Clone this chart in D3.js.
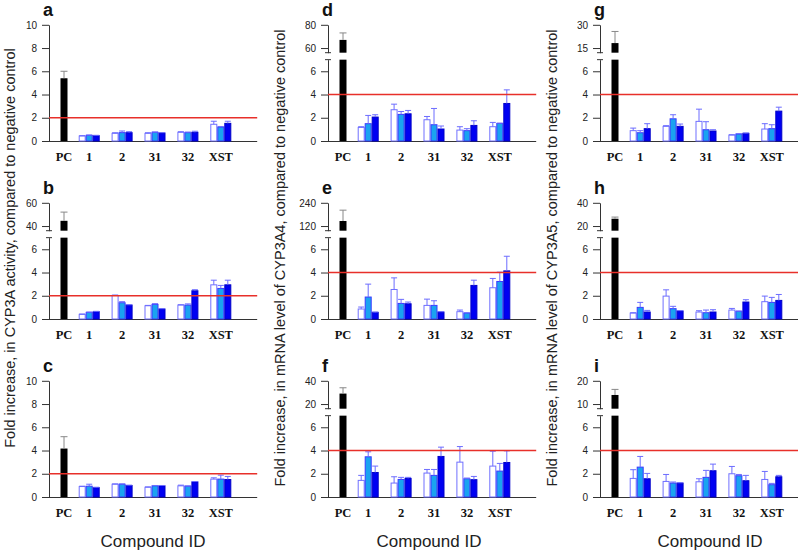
<!DOCTYPE html>
<html><head><meta charset="utf-8">
<script src="https://cdn.jsdelivr.net/npm/d3@7/dist/d3.min.js"></script>
<style>body{margin:0;background:#fff}svg{display:block}</style>
</head><body>
<svg id="chart" width="798" height="551"></svg>
<script>
// ---------- data ----------
const categories = ["PC", "1", "2", "31", "32", "XST"];
const seriesNames = ["white", "light", "dark"];
const panelLetters = ["a", "b", "c", "d", "e", "f", "g", "h", "i"];
const thresholds = [2, 2, 2, 4, 4, 4, 4, 4, 4];
// upper (broken) axis ticks; null = no break, 0..10 scale
const upperTicks = [null, [40, 60], null, [60, 80], [120, 240], [20, 40], [15, 30], [20, 40], [10, 20]];
const yTitles = [
  "Fold increase, in CYP3A activity, compared to negative control",
  "Fold increase, in mRNA level of CYP3A4, compared to negative control",
  "Fold increase, in mRNA level of CYP3A5, compared to negative control"
];
const xTitle = "Compound ID";

const pcValues = [5.4, 44.5, 4.17, 67, 146, 29, 18.2, 26.3, 13.9];
const pcErrors = [0.6, 7.5, 1.02, 6, 56, 5, 7.5, 1.4, 2.4];

// values for compounds 1, 2, 31, 32, XST: [white, light blue, dark blue]
const aValues = [[0.43, 0.66, 0.66, 0.75, 1.44], [0.49, 0.72, 0.75, 0.72, 1.2], [0.46, 0.72, 0.69, 0.75, 1.52]];
const aErrors = [[0.03, 0.05, 0.05, 0.05, 0.26], [0.03, 0.14, 0.03, 0.05, 0.05], [0.03, 0.08, 0.03, 0.09, 0.18]];
const bValues = [[0.4, 2.03, 1.14, 1.2, 2.94], [0.57, 1.4, 1.26, 1.2, 2.63], [0.63, 1.2, 0.86, 2.43, 2.94]];
const bErrors = [[0.03, 0.03, 0.03, 0.03, 0.4], [0.03, 0.09, 0.06, 0.1, 0.26], [0.03, 0.03, 0.03, 0.09, 0.4]];
const cValues = [[0.9, 1.1, 0.84, 0.96, 1.54], [0.93, 1.1, 0.96, 0.93, 1.54], [0.81, 0.99, 0.96, 1.3, 1.5]];
const cErrors = [[0.03, 0.03, 0.03, 0.06, 0.11], [0.17, 0.03, 0.03, 0.03, 0.34], [0.03, 0.03, 0.03, 0.03, 0.27]];
const dValues = [[1.17, 2.69, 1.83, 0.94, 1.23], [1.49, 2.29, 1.4, 0.89, 1.51], [2.06, 2.34, 1.03, 1.34, 3.23]];
const dErrors = [[0.06, 0.48, 0.28, 0.29, 0.37], [0.71, 0.25, 1.4, 0.17, 0.03], [0.2, 0.29, 0.26, 0.4, 1.17]];
const eValues = [[0.86, 2.54, 1.17, 0.63, 2.69], [1.89, 1.34, 1.17, 0.51, 3.23], [0.57, 1.31, 0.6, 2.89, 4.14]];
const eErrors = [[0.17, 1.0, 0.54, 0.14, 0.8], [1.11, 0.35, 0.4, 0.03, 0.8], [0.03, 0.15, 0.03, 0.45, 1.26]];
const fValues = [[1.43, 1.2, 2.06, 3.0, 2.66], [3.46, 1.51, 1.86, 1.57, 2.23], [2.11, 1.6, 3.49, 1.49, 2.97]];
const fErrors = [[0.43, 0.54, 0.31, 1.34, 1.28], [0.43, 0.18, 0.51, 0.06, 0.66], [0.55, 0.09, 0.8, 0.28, 1.0]];
const gValues = [[0.89, 1.26, 1.69, 0.51, 1.03], [0.71, 1.91, 0.97, 0.6, 1.06], [1.06, 1.26, 0.86, 0.66, 2.57]];
const gErrors = [[0.22, 0.06, 1.05, 0.03, 0.46], [0.18, 0.35, 0.69, 0.03, 0.34], [0.43, 0.2, 0.11, 0.03, 0.34]];
const hValues = [[0.51, 1.97, 0.6, 0.77, 1.49], [1.0, 0.89, 0.54, 0.66, 1.43], [0.6, 0.69, 0.6, 1.46, 1.6]];
const hErrors = [[0.03, 0.54, 0.11, 0.14, 0.48], [0.43, 0.2, 0.23, 0.03, 0.43], [0.14, 0.03, 0.2, 0.2, 0.51]];
const iValues = [[1.6, 1.34, 1.31, 2.0, 1.51], [2.57, 1.2, 1.69, 1.83, 1.06], [1.57, 1.2, 2.26, 1.4, 1.74]];
const iErrors = [[0.75, 0.6, 0.26, 0.63, 0.69], [0.92, 0.09, 0.6, 0.11, 0.11], [0.46, 0.03, 0.57, 0.46, 0.12]];

const allValues = [aValues, bValues, cValues, dValues, eValues, fValues, gValues, hValues, iValues];
const allErrors = [aErrors, bErrors, cErrors, dErrors, eErrors, fErrors, gErrors, hErrors, iErrors];

// ---------- style / layout ----------
const colAxisX = [49, 328, 600];
const rowBaseY = [141, 319, 497];
const pxPerUnit = 11.62;
const fills = ["#ffffff", "#1aa3f0", "#0000f2"];
const strokes = ["#7070ff", "#3a3aff", "#0000c8"];
const errColor = "#6c6cff";
const sansFont = "Arial, 'Liberation Sans', Helvetica, sans-serif";
const serifFont = "'Times New Roman', 'Liberation Serif', serif";
const intFmt = d3.format("d");

const svg = d3.select("#chart");

panelLetters.forEach((letter, p) => {
  const col = Math.floor(p / 3), row = p % 3;
  const ax = colAxisX[col], y0 = rowBaseY[row];
  const g = svg.append("g");

  // x: slot units, PC bar at 0, groups of 3 bars
  const x = d3.scaleLinear().domain([0, 1]).range([ax + 11.5, ax + 11.5 + 7]);
  const xEnd = 28.1;
  const groupStart = k => 2.6 + k * 4.7;

  const brk = upperTicks[p];
  const lower = d3.scaleLinear().domain([0, 10]).range([y0, y0 - 10 * pxPerUnit]);
  let upper = null, upperBottom = null;
  if (brk) {
    upper = d3.scaleLinear().domain(brk).range([y0 - 8 * pxPerUnit, y0 - 10 * pxPerUnit]);
    upperBottom = brk[0] - 0.2 * (brk[1] - brk[0]);
  }

  // axes
  const axisG = g.append("g").attr("transform", `translate(${ax},0)`)
    .attr("font-family", sansFont).attr("font-size", 12.5);
  if (!brk) {
    axisG.call(d3.axisLeft(lower).tickValues([0, 2, 4, 6, 8, 10]).tickFormat(intFmt).tickSize(7).tickSizeOuter(0).tickPadding(5));
  } else {
    const lowSeg = d3.scaleLinear().domain([0, 7]).range([lower(0), lower(7)]);
    const upSeg = d3.scaleLinear().domain([upperBottom, brk[1]]).range([upper(upperBottom), upper(brk[1])]);
    axisG.append("g").call(d3.axisLeft(lowSeg).tickValues([0, 2, 4, 6]).tickFormat(intFmt).tickSize(7).tickSizeOuter(0).tickPadding(5));
    axisG.append("g").call(d3.axisLeft(upSeg).tickValues(brk).tickFormat(intFmt).tickSize(7).tickSizeOuter(0).tickPadding(5));
    [lower(7), upper(upperBottom)].forEach(yy => {
      axisG.append("line").attr("x1", -3).attr("x2", 3).attr("y1", yy).attr("y2", yy)
        .attr("stroke", "#333").attr("stroke-width", 1);
    });
  }
  axisG.selectAll("path.domain").attr("stroke", "#333");
  axisG.selectAll(".tick line").attr("stroke", "#333");
  axisG.selectAll(".tick text").attr("fill", "#222");

  // x axis line
  g.append("line").attr("x1", ax).attr("x2", x(xEnd)).attr("y1", y0 + 0.5).attr("y2", y0 + 0.5)
    .attr("stroke", "#333").attr("stroke-width", 1);

  // PC bar
  const pcV = pcValues[p], pcE = pcErrors[p];
  const pcCx = (x(0) + x(1)) / 2;
  if (!brk) {
    g.append("rect").attr("x", x(0)).attr("y", lower(pcV)).attr("width", x(1) - x(0))
      .attr("height", lower(0) - lower(pcV)).attr("fill", "#000");
    g.append("line").attr("x1", pcCx).attr("x2", pcCx).attr("y1", lower(pcV)).attr("y2", lower(pcV + pcE)).attr("stroke", "#888");
    g.append("line").attr("x1", pcCx - 3.5).attr("x2", pcCx + 3.5).attr("y1", lower(pcV + pcE)).attr("y2", lower(pcV + pcE)).attr("stroke", "#888");
  } else {
    g.append("rect").attr("x", x(0)).attr("y", lower(7)).attr("width", x(1) - x(0))
      .attr("height", lower(0) - lower(7)).attr("fill", "#000");
    g.append("rect").attr("x", x(0)).attr("y", upper(pcV)).attr("width", x(1) - x(0))
      .attr("height", upper(upperBottom) - upper(pcV)).attr("fill", "#000");
    g.append("line").attr("x1", pcCx).attr("x2", pcCx).attr("y1", upper(pcV)).attr("y2", upper(pcV + pcE)).attr("stroke", "#888");
    g.append("line").attr("x1", pcCx - 3.5).attr("x2", pcCx + 3.5).attr("y1", upper(pcV + pcE)).attr("y2", upper(pcV + pcE)).attr("stroke", "#888");
  }

  // grouped bars
  const vals = allValues[p], errs = allErrors[p];
  seriesNames.forEach((s, si) => {
    vals[si].forEach((v, k) => {
      const bx = x(groupStart(k) + si), bw = x(1) - x(0);
      g.append("rect").attr("x", bx + 0.5).attr("y", lower(v)).attr("width", bw - 1)
        .attr("height", Math.max(0, lower(0) - lower(v))).attr("fill", fills[si])
        .attr("stroke", strokes[si]).attr("stroke-width", 1);
      const e = errs[si][k];
      const cx = bx + bw / 2;
      g.append("line").attr("x1", cx).attr("x2", cx).attr("y1", lower(v)).attr("y2", lower(v + e))
        .attr("stroke", errColor).attr("stroke-width", 1);
      g.append("line").attr("x1", cx - 3).attr("x2", cx + 3).attr("y1", lower(v + e)).attr("y2", lower(v + e))
        .attr("stroke", errColor).attr("stroke-width", 1);
    });
  });

  // threshold line
  g.append("line").attr("x1", ax).attr("x2", x(xEnd)).attr("y1", lower(thresholds[p])).attr("y2", lower(thresholds[p]))
    .attr("stroke", "#e8302a").attr("stroke-width", 1.3);

  // category labels
  categories.forEach((c, ci) => {
    const cx = ci === 0 ? pcCx : (x(groupStart(ci - 1)) + x(groupStart(ci - 1) + 3)) / 2;
    g.append("text").attr("x", cx).attr("y", y0 + 20).attr("text-anchor", "middle")
      .attr("font-family", serifFont).attr("font-weight", "bold").attr("font-size", 12.5)
      .attr("fill", "#111").text(c);
  });

  // panel letter
  g.append("text").attr("x", ax - 6).attr("y", y0 - 125).attr("font-family", sansFont)
    .attr("font-weight", "bold").attr("font-size", 18).attr("fill", "#111").text(letter);
});

// y titles
const yTitleX = [15, 285, 557];
const yTitleY = [248, 258, 258];
yTitles.forEach((t, i) => {
  svg.append("text").attr("transform", `translate(${yTitleX[i]},${yTitleY[i]}) rotate(-90)`)
    .attr("text-anchor", "middle").attr("font-family", sansFont).attr("font-size", 14.5)
    .attr("fill", "#222").text(t);
});
// x titles
const xTitleX = [153, 429, 710];
xTitleX.forEach(xx => {
  svg.append("text").attr("x", xx).attr("y", 547).attr("text-anchor", "middle")
    .attr("font-family", sansFont).attr("font-size", 17).attr("fill", "#222").text(xTitle);
});
</script>
</body></html>
